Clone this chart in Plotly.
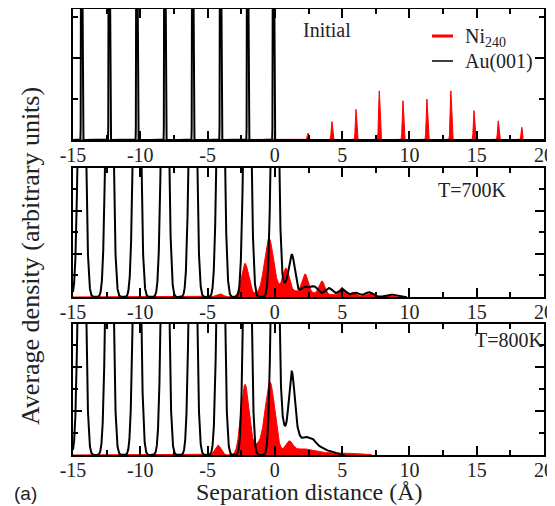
import numpy as np
import plotly.graph_objects as go

# peak tables: centre (Å), height (axis units), width (Å)
# --- Initial ---
au_init_pos = [-14.35, -12.3, -10.25, -8.17, -6.1, -4.03, -2.02, -0.1]
au_init_h = [60, 60, 60, 60, 60, 60, 60, 60]
au_init_w = [0.025, 0.025, 0.025, 0.025, 0.025, 0.025, 0.025, 0.025]

ni_init_pos = [2.46, 4.24, 6.03, 7.76, 9.52, 11.3, 13.08, 14.8, 16.6, 18.35]
ni_init_h = [0.17, 0.45, 0.75, 1.2, 0.96, 1.0, 1.2, 0.72, 0.47, 0.31]
ni_init_w = [0.05, 0.05, 0.05, 0.05, 0.05, 0.05, 0.05, 0.05, 0.05, 0.05]
ni_init_end = 18.45

# --- T=700K ---
au_700_pos = [-14.35, -12.3, -10.25, -8.17, -6.1, -4.03, -2.05, 0.0,
              0.75, 1.27, 2.2, 2.95, 4.0, 5.0, 6.0, 7.0, 8.6]
au_700_h = [18, 18, 18, 18, 18, 18, 18, 18,
            0.5, 1.9, 0.45, 0.45, 0.42, 0.35, 0.2, 0.22, 0.12]
au_700_w = [0.22, 0.22, 0.22, 0.22, 0.22, 0.22, 0.22, 0.22,
            0.25, 0.22, 0.35, 0.3, 0.3, 0.3, 0.3, 0.3, 0.35]
au_700_end = 9.8

ni_700_pos = [-4.1, -2.22, -1.3, -0.44, 0.2, 0.82, 1.5, 2.24, 2.9, 3.5, 4.2,
              4.98, 5.8, 7.0, 8.3]
ni_700_h = [0.15, 1.55, 0.15, 2.7, 0.25, 1.3, 0.25, 1.05, 0.15, 0.72, 0.1,
            0.45, 0.22, 0.15, 0.07]
ni_700_w = [0.25, 0.27, 0.4, 0.33, 0.3, 0.25, 0.3, 0.24, 0.3, 0.22, 0.3,
            0.22, 0.25, 0.3, 0.3]
ni_700_end = 9.8

# --- T=800K ---
au_800_pos = [-14.35, -12.3, -10.25, -8.17, -6.1, -4.03, -2.05, 0.0,
              0.6, 1.25, 1.7, 2.2, 2.8, 3.5, 4.3]
au_800_h = [18, 18, 18, 18, 18, 18, 18, 18,
            1.2, 3.7, 0.6, 0.7, 0.6, 0.3, 0.13]
au_800_w = [0.22, 0.22, 0.22, 0.22, 0.22, 0.22, 0.22, 0.22,
            0.25, 0.22, 0.2, 0.3, 0.3, 0.35, 0.3]
au_800_end = 5.2

ni_800_pos = [-4.23, -2.22, -1.3, -0.36, 1.05, 2.0, 3.0, 4.5, 6.0]
ni_800_h = [0.45, 3.2, 0.4, 3.3, 0.6, 0.25, 0.12, 0.08, 0.05]
ni_800_w = [0.22, 0.3, 0.35, 0.36, 0.3, 0.5, 0.6, 0.8, 0.8]
ni_800_end = 7.2

panel_labels = ["Initial", "T=700K", "T=800K"]
legend_labels = ["Ni<sub>240</sub>", "Au(001)"]
x_tick_vals = [-15, -10, -5, 0, 5, 10, 15, 20]


def profile(end, pos, h, w, step=0.005):
    x = np.arange(-15, end + step / 2, step)
    y = np.zeros_like(x)
    for c, a, s in zip(pos, h, w):
        y += a * np.exp(-(x - c) ** 2 / (2 * s ** 2))
    return x, y


panels = [
    (profile(20, au_init_pos, au_init_h, au_init_w, 0.0025),
     profile(ni_init_end, ni_init_pos, ni_init_h, ni_init_w, 0.0025)),
    (profile(au_700_end, au_700_pos, au_700_h, au_700_w),
     profile(ni_700_end, ni_700_pos, ni_700_h, ni_700_w)),
    (profile(au_800_end, au_800_pos, au_800_h, au_800_w),
     profile(ni_800_end, ni_800_pos, ni_800_h, ni_800_w)),
]

fig = go.Figure()

for i, ((xa, ya), (xn, yn)) in enumerate(panels):
    n = "" if i == 0 else str(i + 1)
    fig.add_trace(go.Scatter(x=xn, y=yn, mode="lines", fill="tozeroy",
                             fillcolor="#ff0000", line=dict(color="#ff0000", width=1),
                             showlegend=False, xaxis="x" + n, yaxis="y" + n))
    fig.add_trace(go.Scatter(x=xa, y=ya, mode="lines",
                             line=dict(color="black", width=2),
                             showlegend=False, xaxis="x" + n, yaxis="y" + n))

serif = "Liberation Serif"
domains = [[0.7063, 1.0], [0.3543, 0.6435], [0.0, 0.2937]]
yranges = [[0, 3.2], [0, 6.0], [0, 5.95]]

axis_common = dict(showline=True, linecolor="black", linewidth=2, mirror="allticks",
                   ticks="inside", tickcolor="black", tickwidth=1.5, ticklen=9,
                   showgrid=False, zeroline=False, automargin=False)

layout_axes = {}
for i in range(3):
    n = "" if i == 0 else str(i + 1)
    layout_axes["xaxis" + n] = dict(
        axis_common, domain=[0, 1], range=[-15, 20], anchor="y" + n,
        tickvals=x_tick_vals, ticktext=[str(v) for v in x_tick_vals],
        tickfont=dict(family=serif, size=20, color="#222"), ticklabelstandoff=-4,
        minor=dict(dtick=2.5, tick0=0, ticks="inside", ticklen=5, tickwidth=1.5,
                   tickcolor="black", showgrid=False),
    )
    layout_axes["yaxis" + n] = dict(
        axis_common, domain=domains[i], range=yranges[i], anchor="x" + n,
        dtick=2, tick0=0, showticklabels=False,
        minor=dict(dtick=1, ticks="inside", ticklen=5, tickwidth=1.5,
                   tickcolor="black", showgrid=False),
    )

# page body has an 8px margin, so the figure is shrunk by that much
fig.update_layout(
    width=547, height=498,
    margin=dict(l=65, r=11, t=1, b=51),
    plot_bgcolor="white", paper_bgcolor="white",
    font=dict(family=serif, size=20, color="#222"),
    showlegend=False,
    **layout_axes,
)


def to_x(px):
    return (px - 73) / 471 * 35 - 15


def to_py(py):
    return (455 - py) / 446


def label(text, x, y, xref="paper", size=20, **kw):
    return dict(text=text, x=x, y=y, xref=xref, yref="paper", showarrow=False,
                xanchor=kw.pop("xanchor", "center"), yanchor="middle",
                font=kw.pop("font", dict(size=size)), **kw)


annotations = [
    label(panel_labels[0], to_x(327), to_py(30), xref="x"),
    label(panel_labels[1], to_x(472), to_py(190), xref="x2"),
    label(panel_labels[2], to_x(509), to_py(340), xref="x3"),
    label(legend_labels[0], to_x(463), to_py(38), xref="x", xanchor="left"),
    label(legend_labels[1], to_x(463), to_py(61), xref="x", xanchor="left"),
    label("Separation distance (Å)", 0.503, to_py(492), size=24),
    label("Average density (arbitrary units)", (31 - 73) / 471, to_py(256),
          size=26, textangle=-90),
    label("(a)", (12 - 73) / 471, to_py(493), xanchor="left",
          font=dict(family="Liberation Sans", size=19, color="#222")),
]

# legend line samples
shapes = [
    dict(type="line", xref="x", yref="paper", x0=to_x(432), x1=to_x(453),
         y0=to_py(36), y1=to_py(36), line=dict(color="#ff0000", width=3)),
    dict(type="line", xref="x", yref="paper", x0=to_x(432), x1=to_x(453),
         y0=to_py(61), y1=to_py(61), line=dict(color="black", width=1.5)),
]
fig.update_layout(annotations=annotations, shapes=shapes)

fig.write_html("out.html")
